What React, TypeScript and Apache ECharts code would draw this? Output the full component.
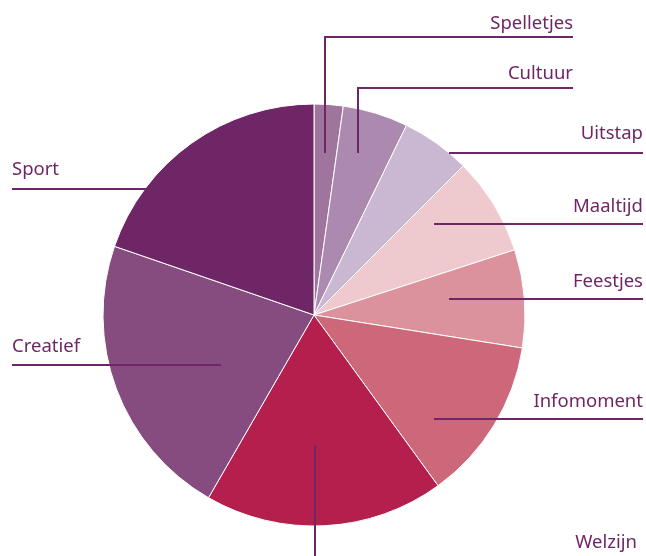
import React, { useEffect, useRef } from "react";
import * as echarts from "echarts";

const categories = ["Spelletjes", "Cultuur", "Uitstap", "Maaltijd", "Feestjes", "Infomoment", "Welzijn", "Creatief", "Sport"];
const values = [8, 18, 19, 27, 27, 45, 66, 79, 71];
const colors = ["#9f759e", "#ac8aaf", "#cab7d2", "#eec9cd", "#db929c", "#cd687b", "#b51f4e", "#864c80", "#6f2667"];

// label layout: text anchor (x, y, align) and leader line points
const labelLayouts: { x: number; y: number; align: "left" | "right"; line: number[][] }[] = [
  { x: 573, y: 21, align: "right", line: [[325, 153], [325, 37], [573, 37]] },
  { x: 573, y: 71, align: "right", line: [[358, 153], [358, 88], [573, 88]] },
  { x: 643, y: 131, align: "right", line: [[449, 153], [546, 153], [643, 153]] },
  { x: 643, y: 204, align: "right", line: [[434, 224], [538, 224], [643, 224]] },
  { x: 643, y: 279, align: "right", line: [[449, 299], [546, 299], [643, 299]] },
  { x: 643, y: 399, align: "right", line: [[434, 419], [538, 419], [643, 419]] },
  { x: 637, y: 540, align: "right", line: [[315, 445], [315, 562], [643, 562]] },
  { x: 12, y: 344, align: "left", line: [[221, 365], [116, 365], [12, 365]] },
  { x: 12, y: 167, align: "left", line: [[280, 189], [146, 189], [12, 189]] },
];

export default function App() {
  const ref = useRef<HTMLDivElement>(null);
  useEffect(() => {
    if (!ref.current) return;
    const chart = echarts.init(ref.current, null, { renderer: "svg" });
    const base = {
      type: "pie",
      center: [314, 315],
      radius: 211,
      startAngle: 90,
      clockwise: true,
      silent: true,
      avoidLabelOverlap: false,
    };
    chart.setOption({
      animation: false,
      series: [
        {
          ...base,
          z: 2,
          itemStyle: { borderColor: "#ffffff", borderWidth: 1 },
          label: { show: false },
          labelLine: { show: false },
          data: categories.map((name, i) => ({
            name,
            value: values[i],
            itemStyle: { color: colors[i] },
          })),
        },
        {
          ...base,
          z: 5,
          itemStyle: { color: "rgba(0,0,0,0)", borderWidth: 0 },
          label: {
            show: true,
            formatter: "{b}",
            color: "#6f2667",
            fontFamily: "Noto Sans",
            fontSize: 18.5,
          },
          labelLine: {
            show: true,
            smooth: false,
            lineStyle: { color: "#6f2667", width: 2 },
          },
          labelLayout: (params: any) => {
            const l = labelLayouts[params.dataIndex];
            return {
              x: l.x,
              y: l.y,
              align: l.align,
              verticalAlign: "middle",
              labelLinePoints: l.line,
            };
          },
          data: categories.map((name, i) => ({ name, value: values[i] })),
        },
      ],
    });
    return () => chart.dispose();
  }, []);
  return <div ref={ref} style={{ position: "fixed", left: 0, top: 0, width: 646, height: 556 }} />;
}
